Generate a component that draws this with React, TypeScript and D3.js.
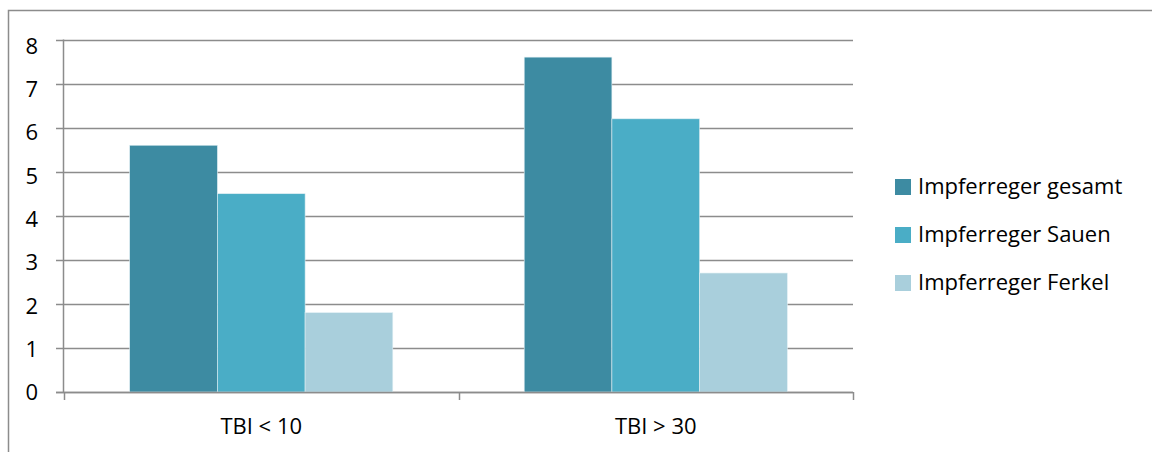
import React from "react";
import * as d3 from "d3";

const categories = ["TBI < 10", "TBI > 30"];
const seriesNames = ["Impferreger gesamt", "Impferreger Sauen", "Impferreger Ferkel"];
const gesamt = [5.6, 7.6];
const sauen = [4.5, 6.2];
const ferkel = [1.8, 2.7];
const yTicks = [0, 1, 2, 3, 4, 5, 6, 7, 8];
const colors = ["#3d8ba2", "#4aadc6", "#a9cfdc"];

export default function App() {
  const W = 1152, H = 452;
  const values = [gesamt, sauen, ferkel];
  const x0 = d3.scaleBand().domain(categories).range([64, 853]).paddingInner(0).paddingOuter(0);
  const bandW = x0.bandwidth();
  const barW = 87.7;
  const groupOffset = (bandW - barW * 3) / 2;
  const y = d3.scaleLinear().domain([0, 8]).range([392, 39.5]);
  const yLab = d3.scaleLinear().domain([0, 8]).range([392.5, 46]);
  const font = "'Open Sans', 'Noto Sans', sans-serif";
  const fs = 22;
  const grid = "#8c8c8c";
  return (
    <svg width={W} height={H} style={{ position: "absolute", left: 0, top: 0 }}>
      <rect x={0} y={0} width={W} height={H} fill="#fff" />
      <path d={`M8.5,460 V10.5 H1160`} fill="none" stroke={grid} strokeWidth={1.5} />
      {yTicks.map((t) => (
        <g key={t}>
          <line x1={56} x2={853} y1={Math.round(y(t)) + 0.5} y2={Math.round(y(t)) + 0.5} stroke={grid} strokeWidth={1.5} />
          <text x={38} y={yLab(t)} dy="0.35em" textAnchor="end" fontFamily={font} fontSize={fs} fill="#000">{t}</text>
        </g>
      ))}
      <line x1={63.5} x2={63.5} y1={39.5} y2={392} stroke={grid} strokeWidth={1.5} />
      {[0, 1, 2].map((i) => {
        const xp = i === 0 ? 64 : i === 1 ? x0(categories[1])! : 853;
        return <line key={i} x1={Math.round(xp) + 0.5} x2={Math.round(xp) + 0.5} y1={392} y2={400} stroke={grid} strokeWidth={1.5} />;
      })}
      {categories.map((c, ci) => (
        <g key={c}>
          {values.map((vals, si) => (
            <rect key={si}
              x={x0(c)! + groupOffset + si * barW}
              y={y(vals[ci])}
              width={barW}
              height={y(0) - y(vals[ci])}
              fill={colors[si]}
              stroke="#dfeef3" strokeWidth={0.6} />
          ))}
          <text x={x0(c)! + bandW / 2} y={433.5} textAnchor="middle" fontFamily={font} fontSize={fs} fill="#000">{c}</text>
        </g>
      ))}
      <line x1={56} x2={853} y1={392.5} y2={392.5} stroke={grid} strokeWidth={1.5} />
      {seriesNames.map((s, i) => (
        <g key={s}>
          <rect x={895} y={179 + i * 48} width={16} height={16} fill={colors[i]} />
          <text x={918} y={193.5 + i * 48} fontFamily={font} fontSize={fs} fill="#000">{s}</text>
        </g>
      ))}
    </svg>
  );
}
